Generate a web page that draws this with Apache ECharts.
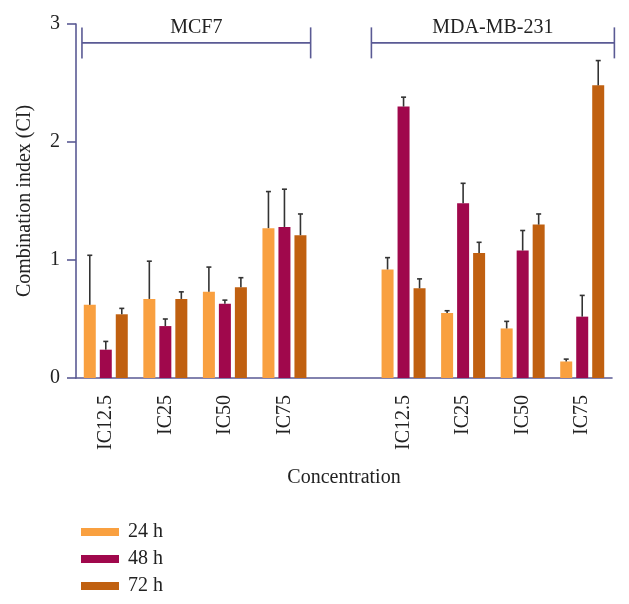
<!DOCTYPE html>
<html>
<head>
<meta charset="utf-8">
<script src="https://cdn.jsdelivr.net/npm/echarts@6/dist/echarts.min.js"></script>
<style>
html,body{margin:0;padding:0;background:#fff;}
#chart{width:629px;height:604px;}
</style>
</head>
<body>
<div id="chart"></div>
<script>
// Categories (index 4 is the blank gap between cell lines)
var categories = ['MCF7 IC12.5', 'MCF7 IC25', 'MCF7 IC50', 'MCF7 IC75', 'gap', 'MDA IC12.5', 'MDA IC25', 'MDA IC50', 'MDA IC75'];
var tickLabels = ['IC12.5', 'IC25', 'IC50', 'IC75', '', 'IC12.5', 'IC25', 'IC50', 'IC75'];
var seriesNames = ['24 h', '48 h', '72 h'];

// Mean combination index
var ci24 = [0.62, 0.67, 0.73, 1.27, null, 0.92, 0.55, 0.42, 0.14];
var ci48 = [0.24, 0.44, 0.63, 1.28, null, 2.30, 1.48, 1.08, 0.52];
var ci72 = [0.54, 0.67, 0.77, 1.21, null, 0.76, 1.06, 1.30, 2.48];

// Upper error (SD)
var sd24 = [0.42, 0.32, 0.21, 0.31, null, 0.10, 0.02, 0.06, 0.02];
var sd48 = [0.07, 0.06, 0.03, 0.32, null, 0.08, 0.17, 0.17, 0.18];
var sd72 = [0.05, 0.06, 0.08, 0.18, null, 0.08, 0.09, 0.09, 0.21];

// Cell-line group brackets (category index span)
var groupNames = ['MCF7', 'MDA-MB-231'];
var groupFrom = [-0.40, 4.46];
var groupTo = [3.44, 8.54];
var bracketLevel = 2.84;

var colors = ['#F9A040', '#A0084C', '#C06010'];
var axisColor = '#5a5a94';
var FONT = 'Liberation Serif';

var means = [ci24, ci48, ci72];
var sds = [sd24, sd48, sd72];

var chart = echarts.init(document.getElementById('chart'));

var series = [];
means.forEach(function (arr, i) {
  series.push({
    name: seriesNames[i],
    type: 'bar',
    data: arr,
    barWidth: 12,
    barGap: '33.3%',
    itemStyle: { color: colors[i] },
    z: 2
  });
});

means.forEach(function (arr, i) {
  var d = [];
  arr.forEach(function (v, k) {
    if (v != null) d.push([k, v, v + sds[i][k]]);
  });
  var off = (i - 1) * 16;
  series.push({
    type: 'custom',
    name: 'err' + i,
    data: d,
    z: 3,
    silent: true,
    encode: { x: 0, y: [1, 2] },
    renderItem: function (params, api) {
      var p0 = api.coord([api.value(0), api.value(1)]);
      var p1 = api.coord([api.value(0), api.value(2)]);
      var x = p0[0] + off;
      return {
        type: 'group',
        children: [
          { type: 'line', shape: { x1: x, y1: p0[1], x2: x, y2: p1[1] }, style: { stroke: '#333', lineWidth: 1.6 } },
          { type: 'line', shape: { x1: x - 2.5, y1: p1[1], x2: x + 2.5, y2: p1[1] }, style: { stroke: '#333', lineWidth: 1.6 } }
        ]
      };
    }
  });
});

var bracketData = groupNames.map(function (n, i) { return [groupFrom[i], groupTo[i], bracketLevel, i]; });
series.push({
  type: 'custom',
  name: 'brackets',
  data: bracketData,
  clip: false,
  silent: true,
  encode: { x: [0, 1], y: 2 },
  renderItem: function (params, api) {
    var bw = api.size([1, 0])[0];
    var c0 = api.coord([0, api.value(2)]);
    var x0 = c0[0] + api.value(0) * bw;
    var x1 = c0[0] + api.value(1) * bw;
    var y = c0[1];
    var st = { stroke: axisColor, lineWidth: 1.6 };
    return {
      type: 'group',
      children: [
        { type: 'line', shape: { x1: x0, y1: y, x2: x1, y2: y }, style: st },
        { type: 'line', shape: { x1: x0, y1: y - 15.5, x2: x0, y2: y + 15.5 }, style: st },
        { type: 'line', shape: { x1: x1, y1: y - 15.5, x2: x1, y2: y + 15.5 }, style: st },
        { type: 'text', style: { text: groupNames[api.value(3)], x: (x0 + x1) / 2, y: y - 15, align: 'center', verticalAlign: 'middle', font: '20px "' + FONT + '"', fill: '#222' } }
      ]
    };
  }
});

chart.setOption({
  animation: false,
  backgroundColor: '#fff',
  textStyle: { fontFamily: FONT },
  grid: { left: 76, right: 17, top: 24, bottom: 226, containLabel: false },
  legend: {
    data: seriesNames,
    orient: 'vertical',
    left: 76,
    top: 517,
    itemWidth: 38,
    itemHeight: 8,
    itemGap: 7,
    icon: 'rect',
    textStyle: { fontFamily: FONT, fontSize: 20, color: '#222', padding: [0, 0, 0, 4] }
  },
  xAxis: {
    type: 'category',
    data: categories,
    name: 'Concentration',
    nameLocation: 'middle',
    nameGap: 90,
    nameTextStyle: { fontFamily: FONT, fontSize: 20, color: '#222' },
    axisLine: { lineStyle: { color: axisColor, width: 1.6 } },
    axisTick: { alignWithLabel: true, length: 10, interval: 0, lineStyle: { color: axisColor, width: 1.6 } },
    axisLabel: {
      interval: 0,
      rotate: 90,
      margin: 17,
      fontFamily: FONT,
      fontSize: 20,
      color: '#222',
      formatter: function (v, idx) { return tickLabels[idx]; }
    }
  },
  yAxis: {
    type: 'value',
    min: 0,
    max: 3,
    interval: 1,
    name: 'Combination index (CI)',
    nameLocation: 'middle',
    nameGap: 41,
    nameTextStyle: { fontFamily: FONT, fontSize: 20, color: '#222' },
    splitLine: { show: false },
    axisLine: { show: true, lineStyle: { color: axisColor, width: 1.6 } },
    axisTick: { show: true, length: 9, lineStyle: { color: axisColor, width: 1.6 } },
    axisLabel: { margin: 16, fontFamily: FONT, fontSize: 20, color: '#222' }
  },
  series: series
});
</script>
</body>
</html>
